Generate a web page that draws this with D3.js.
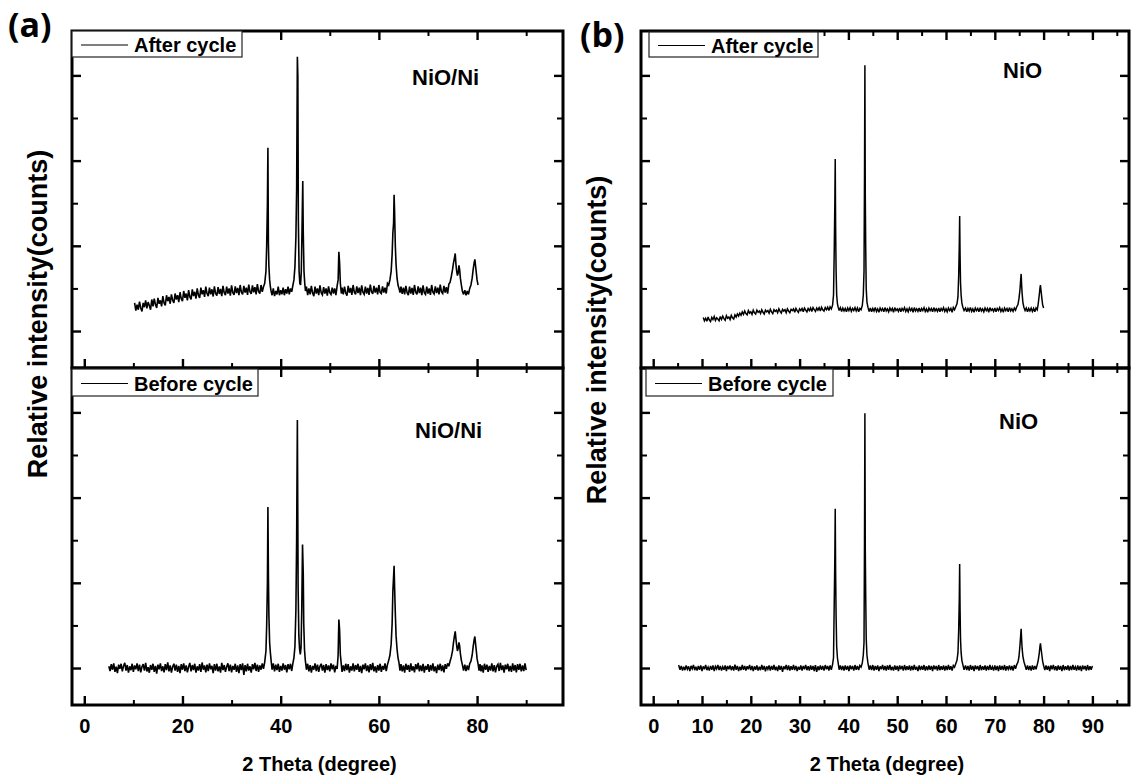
<!DOCTYPE html>
<html><head><meta charset="utf-8">
<script src="https://cdn.jsdelivr.net/npm/d3@7"></script>
<style>
body{margin:0;background:#fff}
svg text{font-family:"Liberation Sans",Arial,sans-serif;font-weight:bold;fill:#000}
</style>
</head><body>
<svg id="chart" width="1131" height="776"></svg>
<script>
// ---------------- data ----------------
const xMajorA = [0, 20, 40, 60, 80];
const xMinorA = [10, 30, 50, 70, 90];
const xMajorB = [0, 10, 20, 30, 40, 50, 60, 70, 80, 90];
const xMinorB = [5, 15, 25, 35, 45, 55, 65, 75, 85, 95];
const yMajor = [0, 1000, 2000, 3000];
const yMinor = [500, 1500, 2500];
const xDomain = [-2.5, 97.5];
const yDomain = [-434, 3521];
const panelLetters = ["(a)", "(b)"];
const legendNames = ["After cycle", "Before cycle"];
const sampleNames = ["NiO/Ni", "NiO"];
const xTitle = "2 Theta (degree)";
const yTitle = "Relative intensity(counts)";

// (a) NiO/Ni after cycle  [2theta, counts]
const aAfter = [[10.25,330],[10.5,240],[10.75,310],[11,250],[11.25,345],[11.5,270],[11.75,230],[12,330],[12.25,280],[12.5,360],[12.75,265],[13,340],[13.25,300],[13.5,250],[13.75,370],[14,290],[14.25,380],[14.5,310],[14.75,270],[15,390],[15.25,320],[15.5,360],[15.75,290],[16,410],[16.25,330],[16.5,300],[16.75,420],[17,350],[17.25,400],[17.5,320],[17.75,430],[18,360],[18.25,330],[18.5,440],[18.75,370],[19,420],[19.25,340],[19.5,455],[19.75,380],[20,350],[20.25,470],[20.5,390],[20.75,440],[21,360],[21.25,480],[21.5,400],[21.75,370],[22,490],[22.25,410],[22.5,460],[22.75,380],[23,500],[23.25,420],[23.5,390],[23.75,510],[24,430],[24.25,480],[24.5,400],[24.75,520],[25,440],[25.25,410],[25.5,510],[25.75,430],[26,490],[26.25,405],[26.5,525],[26.75,440],[27,415],[27.25,515],[27.5,435],[27.75,495],[28,410],[28.25,530],[28.5,450],[28.75,420],[29,520],[29.25,440],[29.5,500],[29.75,415],[30,535],[30.25,450],[30.5,425],[30.75,525],[31,445],[31.25,505],[31.5,420],[31.75,540],[32,455],[32.25,430],[32.5,530],[32.75,450],[33,510],[33.25,425],[33.5,545],[33.75,460],[34,435],[34.25,535],[34.5,455],[34.75,515],[35,430],[35.25,550],[35.5,465],[35.75,440],[36,540],[36.25,460],[36.5,520],[36.75,560],[37,700],[37.15,1000],[37.3,1500],[37.4,2150],[37.5,1030],[37.6,760],[37.75,600],[37.9,520],[38.05,470],[38.25,420],[38.5,500],[38.75,410],[39,470],[39.25,430],[39.5,520],[39.75,420],[40,480],[40.25,430],[40.5,510],[40.75,420],[41,490],[41.25,440],[41.5,520],[41.75,430],[42,500],[42.25,460],[42.5,540],[42.7,600],[42.9,750],[43.1,1100],[43.25,1660],[43.4,3220],[43.5,2990],[43.6,1300],[43.75,700],[43.9,560],[44.05,540],[44.2,700],[44.35,1200],[44.5,1760],[44.6,1150],[44.75,700],[44.9,560],[45.05,470],[45.25,520],[45.5,420],[45.75,500],[46,430],[46.25,530],[46.5,445],[46.75,410],[47,520],[47.25,440],[47.5,500],[47.75,420],[48,535],[48.25,450],[48.5,425],[48.75,515],[49,440],[49.25,500],[49.5,415],[49.75,525],[50,450],[50.25,430],[50.5,510],[50.75,440],[51,500],[51.25,420],[51.5,530],[51.7,600],[51.85,930],[52,800],[52.15,560],[52.35,440],[52.5,510],[52.75,430],[53,520],[53.25,445],[53.5,415],[53.75,530],[54,450],[54.25,505],[54.5,425],[54.75,540],[55,455],[55.25,430],[55.5,525],[55.75,445],[56,510],[56.25,420],[56.5,535],[56.75,455],[57,430],[57.25,520],[57.5,440],[57.75,505],[58,425],[58.25,545],[58.5,460],[58.75,435],[59,530],[59.25,450],[59.5,510],[59.75,430],[60,540],[60.25,455],[60.5,440],[60.75,525],[61,450],[61.25,510],[61.5,440],[61.75,560],[62,540],[62.25,600],[62.5,700],[62.7,900],[62.85,1150],[63,1270],[63.1,1600],[63.2,1400],[63.35,1000],[63.5,780],[63.7,620],[63.9,540],[64.1,500],[64.3,450],[64.5,520],[64.75,435],[65,510],[65.25,430],[65.5,530],[65.75,450],[66,420],[66.25,520],[66.5,440],[66.75,505],[67,425],[67.25,540],[67.5,455],[67.75,430],[68,525],[68.25,445],[68.5,510],[68.75,420],[69,535],[69.25,450],[69.5,430],[69.75,520],[70,440],[70.25,500],[70.5,425],[70.75,540],[71,455],[71.25,435],[71.5,525],[71.75,445],[72,510],[72.25,430],[72.5,545],[72.75,460],[73,440],[73.25,530],[73.5,450],[73.75,515],[74,440],[74.25,550],[74.5,570],[74.75,640],[75,720],[75.2,800],[75.4,860],[75.55,910],[75.7,780],[75.85,700],[76,650],[76.15,680],[76.3,770],[76.45,720],[76.6,620],[76.8,540],[77,470],[77.25,430],[77.5,480],[77.75,420],[78,470],[78.25,430],[78.5,500],[78.75,540],[79,620],[79.2,720],[79.4,800],[79.55,840],[79.7,760],[79.85,680],[80,600],[80.2,540]];

// (a) NiO/Ni before cycle
const aBefore = [[5,20],[5.25,-35],[5.5,45],[5.75,-20],[6,55],[6.25,-45],[6.5,15],[6.75,-60],[7,40],[7.25,-10],[7.5,50],[7.75,-40],[8,25],[8.25,60],[8.5,-30],[8.75,35],[9,-55],[9.25,20],[9.5,-25],[9.75,50],[10,-45],[10.25,30],[10.5,-15],[10.75,55],[11,-35],[11.25,40],[11.5,-50],[11.75,15],[12,45],[12.25,-30],[12.5,60],[12.75,-40],[13,10],[13.25,-55],[13.5,35],[13.75,-20],[14,50],[14.25,-45],[14.5,25],[14.75,-65],[15,40],[15.25,-15],[15.5,55],[15.75,-35],[16,20],[16.25,-50],[16.5,45],[16.75,-25],[17,65],[17.25,-40],[17.5,30],[17.75,-55],[18,15],[18.25,50],[18.5,-30],[18.75,40],[19,-45],[19.25,25],[19.5,-60],[19.75,45],[20,-20],[20.25,55],[20.5,-35],[20.75,30],[21,-50],[21.25,15],[21.5,60],[21.75,-40],[22,35],[22.25,-25],[22.5,50],[22.75,-55],[23,20],[23.25,-30],[23.5,45],[23.75,-45],[24,65],[24.25,-20],[24.5,30],[24.75,-50],[25,40],[25.25,-35],[25.5,55],[25.75,-15],[26,25],[26.25,-60],[26.5,45],[26.75,-30],[27,50],[27.25,-40],[27.5,20],[27.75,-55],[28,60],[28.25,-25],[28.5,35],[28.75,-45],[29,15],[29.25,55],[29.5,-35],[29.75,40],[30,-50],[30.25,25],[30.5,-20],[30.75,50],[31,-45],[31.25,30],[31.5,-60],[31.75,45],[32,-25],[32.25,55],[32.5,-80],[32.75,35],[33,-40],[33.25,50],[33.5,-30],[33.75,20],[34,-55],[34.25,45],[34.5,-15],[34.75,60],[35,-35],[35.25,40],[35.5,-45],[35.75,30],[36,-20],[36.25,55],[36.5,-10],[36.75,70],[37,200],[37.15,500],[37.3,1000],[37.4,1890],[37.5,1100],[37.6,620],[37.75,300],[37.9,180],[38.05,90],[38.25,-20],[38.5,55],[38.75,-40],[39,40],[39.25,-25],[39.5,50],[39.75,-45],[40,25],[40.25,-30],[40.5,55],[40.75,-20],[41,35],[41.25,-50],[41.5,45],[41.75,-15],[42,50],[42.25,-35],[42.5,60],[42.7,120],[42.9,250],[43.1,680],[43.25,1500],[43.4,2910],[43.55,950],[43.7,380],[43.85,220],[44,160],[44.15,240],[44.3,700],[44.45,1450],[44.6,1100],[44.7,520],[44.85,220],[45,100],[45.25,-20],[45.5,50],[45.75,-40],[46,35],[46.25,-55],[46.5,25],[46.75,-20],[47,55],[47.25,-35],[47.5,40],[47.75,-45],[48,20],[48.25,50],[48.5,-30],[48.75,35],[49,-55],[49.25,45],[49.5,-25],[49.75,30],[50,-40],[50.25,55],[50.5,-15],[50.75,40],[51,-50],[51.25,25],[51.5,-10],[51.7,150],[51.85,570],[52,450],[52.15,160],[52.35,40],[52.5,-45],[52.75,30],[53,-35],[53.25,50],[53.5,-25],[53.75,45],[54,-55],[54.25,20],[54.5,-30],[54.75,55],[55,-40],[55.25,35],[55.5,-20],[55.75,50],[56,-45],[56.25,25],[56.5,-60],[56.75,40],[57,-15],[57.25,55],[57.5,-35],[57.75,30],[58,-50],[58.25,45],[58.5,-25],[58.75,60],[59,-40],[59.25,20],[59.5,-55],[59.75,35],[60,-30],[60.25,50],[60.5,-45],[60.75,25],[61,-20],[61.25,55],[61.5,-35],[61.75,40],[62,90],[62.25,150],[62.5,280],[62.7,520],[62.85,900],[63,1080],[63.1,1200],[63.2,950],[63.35,640],[63.5,380],[63.7,220],[63.9,120],[64.1,60],[64.3,-30],[64.5,45],[64.75,-40],[65,30],[65.25,-55],[65.5,50],[65.75,-20],[66,35],[66.25,-45],[66.5,55],[66.75,-30],[67,20],[67.25,-50],[67.5,45],[67.75,-15],[68,60],[68.25,-40],[68.5,30],[68.75,-35],[69,50],[69.25,-55],[69.5,25],[69.75,-20],[70,45],[70.25,-45],[70.5,35],[70.75,-30],[71,55],[71.25,-40],[71.5,20],[71.75,-60],[72,40],[72.25,-25],[72.5,50],[72.75,-35],[73,30],[73.25,-50],[73.5,45],[73.75,-10],[74,55],[74.25,20],[74.5,80],[74.75,130],[75,200],[75.2,300],[75.4,380],[75.55,430],[75.7,340],[75.85,260],[76,200],[76.15,230],[76.3,300],[76.45,260],[76.6,170],[76.8,90],[77,40],[77.25,-30],[77.5,40],[77.75,-35],[78,30],[78.25,-25],[78.5,50],[78.75,80],[79,150],[79.2,250],[79.4,330],[79.55,370],[79.7,280],[79.85,200],[80,110],[80.2,50],[80.4,-30],[80.6,45],[80.8,-40],[81,30],[81.25,-55],[81.5,50],[81.75,-20],[82,40],[82.25,-45],[82.5,25],[82.75,-30],[83,55],[83.25,-40],[83.5,35],[83.75,-50],[84,20],[84.25,45],[84.5,-35],[84.75,60],[85,-25],[85.25,30],[85.5,-55],[85.75,40],[86,-15],[86.25,50],[86.5,-40],[86.75,25],[87,-45],[87.25,55],[87.5,-30],[87.75,35],[88,-50],[88.25,45],[88.5,-20],[88.75,50],[89,-40],[89.25,30],[89.5,-35],[89.75,55],[90,-25]];

// (b) NiO after cycle
const bAfter = [[10.25,160],[10.5,120],[10.75,150],[11,115],[11.25,165],[11.5,130],[11.75,110],[12,160],[12.25,135],[12.5,170],[12.75,125],[13,155],[13.25,140],[13.5,120],[13.75,170],[14,135],[14.25,175],[14.5,145],[14.75,125],[15,180],[15.25,150],[15.5,165],[15.75,135],[16,185],[16.25,155],[16.5,140],[16.75,190],[17,165],[17.25,200],[17.5,175],[17.75,210],[18,185],[18.25,225],[18.5,195],[18.75,235],[19,205],[19.25,190],[19.5,240],[19.75,210],[20,225],[20.25,195],[20.5,245],[20.75,215],[21,200],[21.25,245],[21.5,220],[21.75,235],[22,205],[22.25,250],[22.5,220],[22.75,200],[23,245],[23.25,225],[23.5,240],[23.75,210],[24,255],[24.25,225],[24.5,205],[24.75,250],[25,230],[25.25,245],[25.5,215],[25.75,260],[26,230],[26.25,210],[26.5,255],[26.75,235],[27,250],[27.25,215],[27.5,260],[27.75,235],[28,215],[28.25,255],[28.5,240],[28.75,260],[29,220],[29.25,265],[29.5,240],[29.75,220],[30,260],[30.25,240],[30.5,265],[30.75,225],[31,270],[31.25,245],[31.5,225],[31.75,265],[32,240],[32.25,270],[32.5,230],[32.75,275],[33,250],[33.25,230],[33.5,270],[33.75,245],[34,275],[34.25,235],[34.5,280],[34.75,250],[35,235],[35.25,275],[35.5,250],[35.75,280],[36,240],[36.25,285],[36.5,260],[36.75,300],[36.95,420],[37.1,950],[37.22,1500],[37.3,2020],[37.38,1230],[37.48,700],[37.6,420],[37.75,320],[37.9,280],[38.1,240],[38.35,275],[38.6,230],[38.85,270],[39.1,235],[39.35,265],[39.6,225],[39.85,270],[40.1,240],[40.35,275],[40.6,230],[40.85,265],[41.1,240],[41.35,275],[41.6,235],[41.85,270],[42.1,225],[42.35,265],[42.6,250],[42.85,300],[43.05,420],[43.2,700],[43.3,1800],[43.38,3120],[43.46,1600],[43.55,970],[43.65,500],[43.8,340],[44,280],[44.25,230],[44.5,270],[44.75,225],[45,265],[45.25,235],[45.5,275],[45.75,230],[46,260],[46.25,220],[46.5,270],[46.75,240],[47,265],[47.25,225],[47.5,275],[47.75,235],[48,260],[48.25,225],[48.5,270],[48.75,240],[49,265],[49.25,220],[49.5,275],[49.75,240],[50,260],[50.25,230],[50.5,270],[50.75,225],[51,265],[51.25,240],[51.5,275],[51.75,230],[52,260],[52.25,225],[52.5,270],[52.75,240],[53,265],[53.25,220],[53.5,275],[53.75,235],[54,260],[54.25,230],[54.5,270],[54.75,225],[55,265],[55.25,240],[55.5,275],[55.75,230],[56,260],[56.25,220],[56.5,270],[56.75,240],[57,265],[57.25,225],[57.5,275],[57.75,235],[58,260],[58.25,230],[58.5,270],[58.75,225],[59,265],[59.25,240],[59.5,275],[59.75,230],[60,260],[60.25,225],[60.5,270],[60.75,240],[61,265],[61.25,220],[61.5,275],[61.75,250],[62,285],[62.25,320],[62.45,400],[62.6,650],[62.72,1000],[62.8,1350],[62.88,900],[62.98,560],[63.1,420],[63.25,330],[63.45,280],[63.7,240],[64,270],[64.25,225],[64.5,265],[64.75,235],[65,275],[65.25,230],[65.5,260],[65.75,220],[66,270],[66.25,240],[66.5,265],[66.75,225],[67,275],[67.25,235],[67.5,260],[67.75,225],[68,270],[68.25,240],[68.5,265],[68.75,220],[69,275],[69.25,240],[69.5,260],[69.75,230],[70,270],[70.25,225],[70.5,265],[70.75,240],[71,275],[71.25,230],[71.5,260],[71.75,220],[72,270],[72.25,240],[72.5,265],[72.75,225],[73,275],[73.25,235],[73.5,260],[73.75,230],[74,270],[74.25,245],[74.5,285],[74.75,310],[74.95,380],[75.15,480],[75.3,600],[75.4,670],[75.5,540],[75.6,440],[75.75,340],[75.95,280],[76.2,240],[76.45,270],[76.7,225],[76.95,265],[77.2,235],[77.45,270],[77.7,230],[77.95,265],[78.2,225],[78.45,270],[78.7,250],[78.9,320],[79.1,420],[79.25,500],[79.35,540],[79.5,460],[79.65,380],[79.8,310],[80,270]];

// (b) NiO before cycle
const bBefore = [[5.2,35],[5.5,-20],[5.75,25],[6,-30],[6.25,15],[6.5,-25],[6.75,30],[7,-15],[7.25,20],[7.5,-35],[7.75,25],[8,-10],[8.25,35],[8.5,-25],[8.75,15],[9,-30],[9.25,25],[9.5,-20],[9.75,30],[10,-35],[10.25,20],[10.5,-15],[10.75,35],[11,-25],[11.25,10],[11.5,-30],[11.75,25],[12,-20],[12.25,30],[12.5,-35],[12.75,20],[13,-10],[13.25,35],[13.5,-25],[13.75,25],[14,-30],[14.25,15],[14.5,-20],[14.75,30],[15,-35],[15.25,25],[15.5,-15],[15.75,30],[16,-25],[16.25,20],[16.5,-30],[16.75,40],[17,-20],[17.25,25],[17.5,-35],[17.75,15],[18,-25],[18.25,35],[18.5,-20],[18.75,25],[19,-30],[19.25,20],[19.5,-15],[19.75,35],[20,-25],[20.25,25],[20.5,-35],[20.75,20],[21,-20],[21.25,30],[21.5,-30],[21.75,15],[22,-25],[22.25,35],[22.5,-20],[22.75,25],[23,-40],[23.25,20],[23.5,-15],[23.75,30],[24,-30],[24.25,25],[24.5,-20],[24.75,35],[25,-25],[25.25,15],[25.5,-35],[25.75,30],[26,-20],[26.25,25],[26.5,-45],[26.75,20],[27,-15],[27.25,35],[27.5,-25],[27.75,30],[28,-30],[28.25,20],[28.5,-20],[28.75,35],[29,-25],[29.25,25],[29.5,-35],[29.75,15],[30,-20],[30.25,30],[30.5,-30],[30.75,25],[31,-15],[31.25,35],[31.5,-25],[31.75,20],[32,-30],[32.25,30],[32.5,-20],[32.75,25],[33,-35],[33.25,35],[33.5,-45],[33.75,20],[34,-25],[34.25,30],[34.5,-20],[34.75,25],[35,-30],[35.25,35],[35.5,-15],[35.75,25],[36,-30],[36.25,30],[36.5,-20],[36.75,40],[36.95,120],[37.1,780],[37.22,1300],[37.3,1870],[37.38,1140],[37.48,600],[37.6,250],[37.75,120],[37.9,60],[38.1,-20],[38.35,30],[38.6,-25],[38.85,25],[39.1,-30],[39.35,30],[39.6,-20],[39.85,25],[40.1,-35],[40.35,30],[40.6,-15],[40.85,25],[41.1,-30],[41.35,35],[41.6,-20],[41.85,25],[42.1,-25],[42.35,30],[42.6,10],[42.85,60],[43.05,150],[43.2,300],[43.3,1500],[43.38,2990],[43.46,1400],[43.55,840],[43.65,350],[43.8,150],[44,60],[44.25,-20],[44.5,30],[44.75,-25],[45,35],[45.25,-30],[45.5,25],[45.75,-20],[46,30],[46.25,-35],[46.5,20],[46.75,-15],[47,35],[47.25,-25],[47.5,25],[47.75,-30],[48,30],[48.25,-20],[48.5,35],[48.75,-25],[49,15],[49.25,-30],[49.5,30],[49.75,-20],[50,25],[50.25,-35],[50.5,30],[50.75,-15],[51,25],[51.25,-30],[51.5,35],[51.75,-25],[52,20],[52.25,-20],[52.5,30],[52.75,-30],[53,25],[53.25,-25],[53.5,35],[53.75,-20],[54,15],[54.25,-35],[54.5,30],[54.75,-25],[55,25],[55.25,-20],[55.5,35],[55.75,-30],[56,20],[56.25,-25],[56.5,30],[56.75,-20],[57,25],[57.25,-35],[57.5,30],[57.75,-15],[58,25],[58.25,-30],[58.5,35],[58.75,-25],[59,20],[59.25,-20],[59.5,30],[59.75,-30],[60,25],[60.25,-25],[60.5,35],[60.75,-20],[61,20],[61.25,-30],[61.5,30],[61.75,10],[62,50],[62.25,90],[62.45,180],[62.6,450],[62.72,800],[62.8,1220],[62.88,700],[62.98,330],[63.1,180],[63.25,90],[63.45,40],[63.7,-20],[64,30],[64.25,-25],[64.5,25],[64.75,-30],[65,35],[65.25,-20],[65.5,25],[65.75,-35],[66,30],[66.25,-15],[66.5,25],[66.75,-30],[67,35],[67.25,-25],[67.5,20],[67.75,-20],[68,30],[68.25,-30],[68.5,25],[68.75,-25],[69,35],[69.25,-20],[69.5,15],[69.75,-30],[70,30],[70.25,-25],[70.5,25],[70.75,-35],[71,30],[71.25,-20],[71.5,25],[71.75,-25],[72,35],[72.25,-30],[72.5,20],[72.75,-15],[73,30],[73.25,-25],[73.5,25],[73.75,-30],[74,35],[74.25,-10],[74.5,40],[74.75,70],[74.95,130],[75.15,260],[75.3,380],[75.4,460],[75.5,330],[75.6,230],[75.75,140],[75.95,80],[76.2,30],[76.45,-20],[76.7,30],[76.95,-25],[77.2,25],[77.45,-30],[77.7,30],[77.95,-20],[78.2,25],[78.45,-15],[78.7,40],[78.9,90],[79.1,170],[79.25,250],[79.35,290],[79.5,220],[79.65,150],[79.8,80],[80,30],[80.25,-25],[80.5,30],[80.75,-20],[81,25],[81.25,-35],[81.5,30],[81.75,-15],[82,35],[82.25,-25],[82.5,20],[82.75,-30],[83,30],[83.25,-20],[83.5,25],[83.75,-35],[84,35],[84.25,-25],[84.5,20],[84.75,-20],[85,30],[85.25,-30],[85.5,25],[85.75,-25],[86,35],[86.25,-20],[86.5,15],[86.75,-30],[87,30],[87.25,-25],[87.5,25],[87.75,-35],[88,30],[88.25,-15],[88.5,25],[88.75,-30],[89,35],[89.25,-25],[89.5,20],[89.75,-20],[90,25]];

// ---------------- layout ----------------
const svg = d3.select("#chart");
const panels = [
  { letter: panelLetters[0], lx: 8, ly: 37, x0: 72, x1: 563, xMaj: xMajorA, xMin: xMinorA,
    yTitleX: 47, yTitleY: 314, sample: sampleNames[0], lw: 1.6,
    subs: [
      { data: aAfter, top: 31, bot: 368, legend: legendNames[0], box: [72, 31, 170, 26], sx: 412, sy: 85 },
      { data: aBefore, top: 368, bot: 705, legend: legendNames[1], box: [72, 369, 186, 27], sx: 415, sy: 438 }
    ] },
  { letter: panelLetters[1], lx: 580, ly: 47, x0: 641, x1: 1129, xMaj: xMajorB, xMin: xMinorB,
    yTitleX: 606, yTitleY: 340, sample: sampleNames[1], lw: 1.5,
    subs: [
      { data: bAfter, top: 31, bot: 368, legend: legendNames[0], box: [649, 32, 169, 25], sx: 1003, sy: 78 },
      { data: bBefore, top: 368, bot: 705, legend: legendNames[1], box: [646, 369, 187, 27], sx: 999, sy: 429 }
    ] }
];

function styleTicks(g, w) {
  g.select(".domain").remove();
  g.selectAll(".tick line").attr("stroke", "#000").attr("stroke-width", w);
}

panels.forEach((p) => {
  const x = d3.scaleLinear().domain(xDomain).range([p.x0, p.x1]);
  p.subs.forEach((s, si) => {
    const y = d3.scaleLinear().domain(yDomain).range([s.bot, s.top]);
    const g = svg.append("g");
    g.append("path").datum(s.data)
      .attr("fill", "none").attr("stroke", "#000").attr("stroke-width", p.lw)
      .attr("stroke-linejoin", "miter").attr("stroke-miterlimit", 3)
      .attr("d", d3.line().x(d => x(d[0])).y(d => y(d[1])));
    const mk = (axisFn, scale, vals, len, tr) => {
      const a = g.append("g").attr("transform", tr)
        .call(axisFn(scale).tickValues(vals).tickSizeInner(-len).tickSizeOuter(0).tickFormat(""));
      styleTicks(a, len > 6 ? 2.4 : 2);
      a.selectAll("text").remove();
    };
    mk(d3.axisBottom, x, p.xMaj, 9, `translate(0,${s.bot})`);
    mk(d3.axisBottom, x, p.xMin, 5, `translate(0,${s.bot})`);
    mk(d3.axisTop, x, p.xMaj, 9, `translate(0,${s.top})`);
    mk(d3.axisTop, x, p.xMin, 5, `translate(0,${s.top})`);
    mk(d3.axisLeft, y, yMajor, 9, `translate(${p.x0},0)`);
    mk(d3.axisLeft, y, yMinor, 6, `translate(${p.x0},0)`);
    mk(d3.axisRight, y, yMajor, 9, `translate(${p.x1},0)`);
    mk(d3.axisRight, y, yMinor, 6, `translate(${p.x1},0)`);
    g.append("rect").attr("x", p.x0).attr("y", s.top)
      .attr("width", p.x1 - p.x0).attr("height", s.bot - s.top)
      .attr("fill", "none").attr("stroke", "#000").attr("stroke-width", 3);
    if (si === 1) {
      const lab = g.append("g").attr("transform", `translate(0,${s.bot})`)
        .call(d3.axisBottom(x).tickValues(p.xMaj).tickSize(0).tickPadding(14).tickFormat(d3.format("d")));
      lab.select(".domain").remove();
      lab.selectAll("text").attr("font-size", 20).attr("font-family", "Liberation Sans, Arial, sans-serif")
        .attr("font-weight", "bold").attr("fill", "#000");
    }
    const [bx, by, bw, bh] = s.box;
    g.append("rect").attr("x", bx).attr("y", by).attr("width", bw).attr("height", bh)
      .attr("fill", "#fff").attr("stroke", "#222").attr("stroke-width", 1.2);
    g.append("line").attr("x1", bx + 9).attr("x2", bx + 56)
      .attr("y1", by + bh / 2 + 1).attr("y2", by + bh / 2 + 1)
      .attr("stroke", "#000").attr("stroke-width", 1.2);
    g.append("text").attr("x", bx + 62).attr("y", by + bh / 2 + 8)
      .attr("font-size", 20).text(s.legend);
    g.append("text").attr("x", s.sx).attr("y", s.sy).attr("font-size", 22).text(p.sample);
  });
  svg.append("text").attr("x", p.lx).attr("y", p.ly).attr("font-size", 34)
    .style("font-family", "'Open Sans', 'Liberation Sans', sans-serif").text(p.letter);
  svg.append("text").attr("x", (p.x0 + p.x1) / 2 + 2).attr("y", 771)
    .attr("text-anchor", "middle").attr("font-size", 20).text(xTitle);
  svg.append("text").attr("transform", `translate(${p.yTitleX},${p.yTitleY}) rotate(-90)`)
    .attr("text-anchor", "middle").attr("font-size", 27).text(yTitle);
});
</script>
</body></html>
